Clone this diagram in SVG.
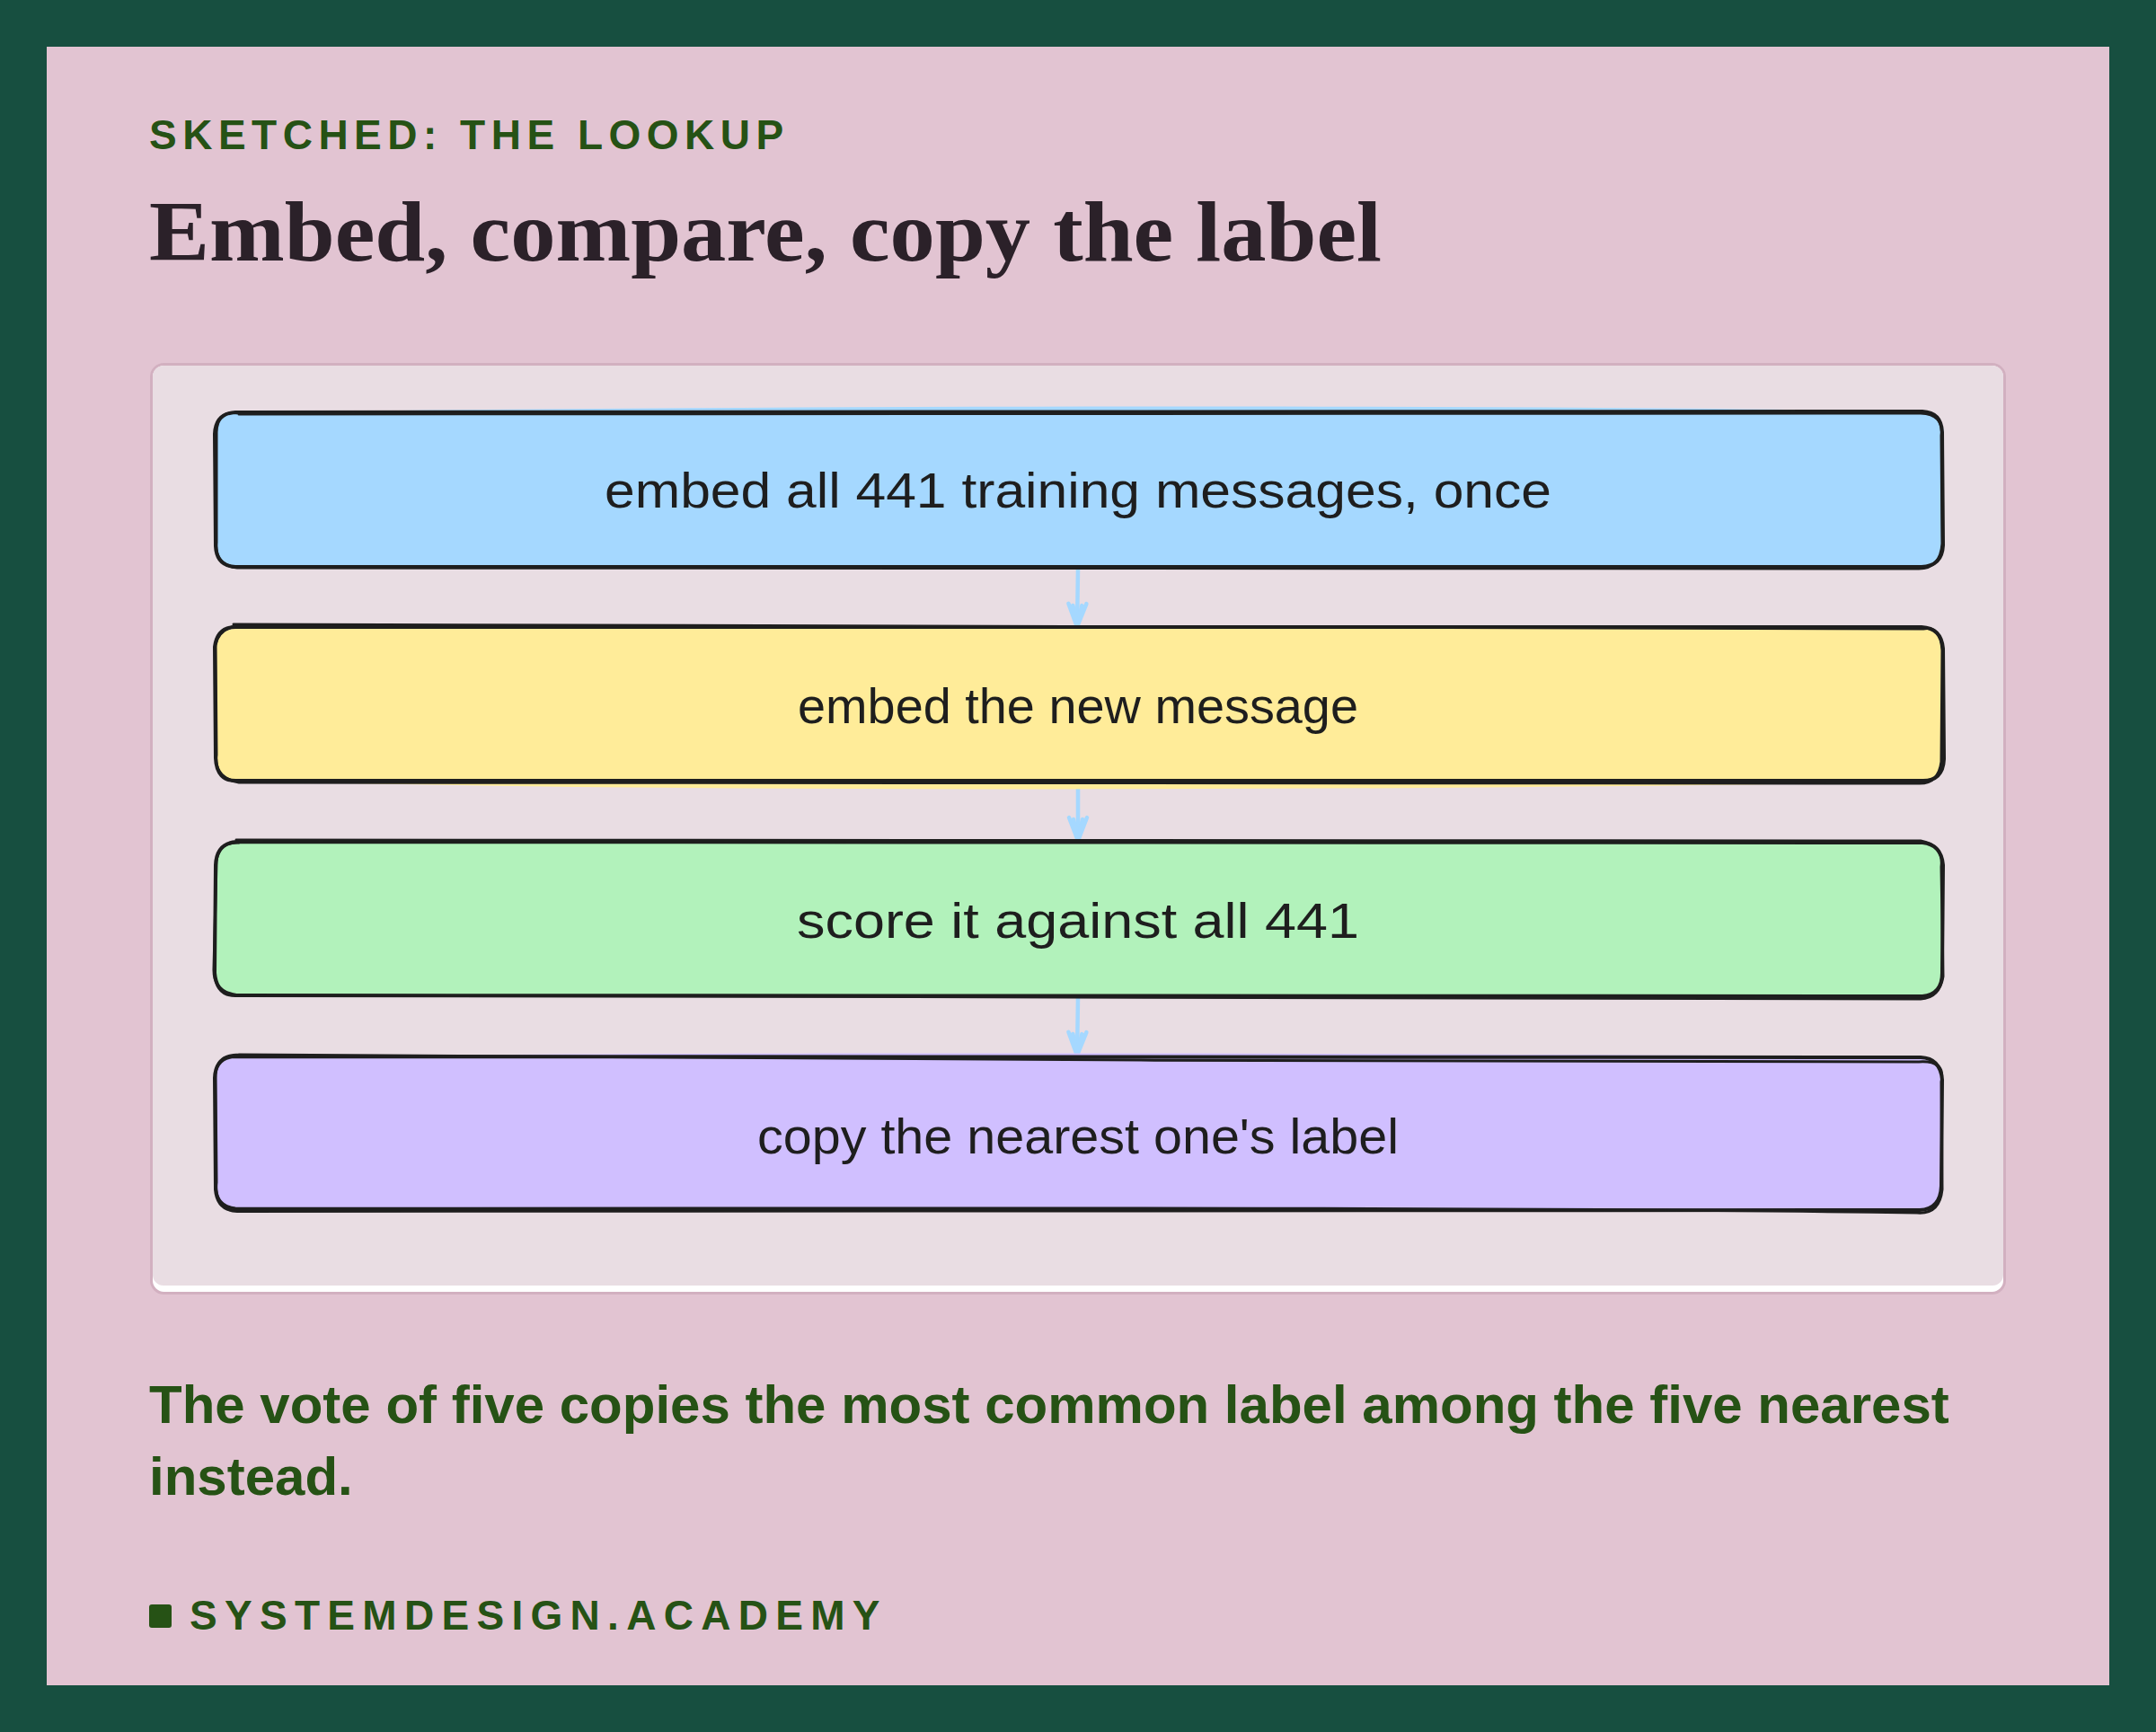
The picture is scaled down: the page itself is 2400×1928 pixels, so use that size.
<svg xmlns="http://www.w3.org/2000/svg" width="2400" height="1928" viewBox="0 0 2400 1928">
  <style>
    .kicker { font-family: "Liberation Sans", Arial, sans-serif; font-weight: 700; font-size: 46px; fill: #265215; letter-spacing: 6.5px; }
    .title { font-family: "Liberation Serif", "Times New Roman", serif; font-weight: 700; font-size: 96px; fill: #2b2129; }
    .caption { font-family: "Liberation Sans", Arial, sans-serif; font-weight: 700; font-size: 60px; fill: #265215; }
    .footer { font-family: "Liberation Sans", Arial, sans-serif; font-weight: 700; font-size: 46px; fill: #265215; letter-spacing: 8.3px; }
    .label { font-family: "Liberation Sans", Arial, sans-serif; font-size: 56px; fill: #1e1e1e; text-anchor: middle; }
    .edge { fill: none; stroke: #1e1e1e; stroke-width: 4; stroke-linecap: round; stroke-linejoin: round; }
    .edge2 { fill: none; stroke: #1e1e1e; stroke-width: 3; stroke-linecap: round; stroke-linejoin: round; }
    .conn { fill: none; stroke: #a5d8ff; stroke-width: 4.5; stroke-linecap: round; }
  </style>
  <defs>
    <marker id="ah" viewBox="-32 -16 38 32" refX="0" refY="0" markerWidth="38" markerHeight="32" markerUnits="userSpaceOnUse" orient="auto">
      <path d="M-26,-10 L0,0 L-26,10 M-24,-5 L0,0 L-24,5" fill="none" stroke="#a5d8ff" stroke-width="4.5" stroke-linecap="round" stroke-linejoin="round"/>
    </marker>
  </defs>

  <rect x="0" y="0" width="2400" height="1928" fill="#174f40"/>
  <rect x="52" y="52" width="2296" height="1824" fill="#e2c4d2"/>

  <g id="header">
    <text class="kicker" x="166" y="166">SKETCHED: THE LOOKUP</text>
    <text class="title" x="166" y="290" textLength="1372" lengthAdjust="spacingAndGlyphs">Embed, compare, copy the label</text>
  </g>

  <g id="panel">
    <rect x="168.5" y="405.5" width="2063" height="1034" rx="14" fill="#ffffff" stroke="#d2b0c0" stroke-width="3"/>
    <rect x="170" y="407" width="2060" height="1024" rx="12" fill="#e9dde3"/>
  </g>

  <g id="connectors">
    <path class="conn" d="M1200,633 L1199,698" marker-end="url(#ah)"/>
    <path class="conn" d="M1200,871 L1200,936" marker-end="url(#ah)"/>
    <path class="conn" d="M1200,1110 L1199,1175" marker-end="url(#ah)"/>
  </g>

  <g id="node-embed-all" transform="translate(240,459)">
    <path d="M24,0 C560,-7 1360,-10 1900,-1 Q1923,1 1924,24 L1923,148 Q1922,172 1898,172 L24,173 Q0,172 0,148 L0,24 Q0,0 24,0 Z" fill="#a5d8ff"/>
    <path class="edge" d="M22,0 L1900,-1 Q1921,0 1922,22 L1923,148 Q1922,171 1899,172 L22,172 Q1,171 0,149 L-1,24 Q0,1 22,0"/>
    <path class="edge2" d="M26,2 L1898,1 Q1924,2 1921,26 L1922,146 Q1920,174 1896,174 L24,173 Q-1,170 1,145 L1,22 Q2,-3 26,1"/>
    <text class="label" x="960" y="106" textLength="1054" lengthAdjust="spacingAndGlyphs">embed all 441 training messages, once</text>
  </g>

  <g id="node-embed-new" transform="translate(240,698)">
    <path d="M24,2 L1900,0 Q1922,1 1922,24 L1924,148 Q1922,171 1898,172 C1500,180 900,183 400,178 L24,172 Q0,171 -1,147 L0,24 Q0,2 24,2 Z" fill="#ffec99"/>
    <path class="edge" d="M24,0 L1899,0 Q1921,1 1923,24 L1924,147 Q1923,172 1899,171 L24,171 Q1,172 0,146 L-1,22 Q2,-1 24,0"/>
    <path class="edge2" d="M20,-3 L1901,2 Q1920,-2 1922,26 L1921,150 Q1918,174 1897,174 L26,173 Q-2,168 1,142 L0,20 Q3,3 22,-1"/>
    <text class="label" x="960" y="107" textLength="624" lengthAdjust="spacingAndGlyphs">embed the new message</text>
  </g>

  <g id="node-score" transform="translate(240,937)">
    <path d="M24,0 L1898,0 Q1922,1 1922,24 L1923,148 Q1921,172 1898,171 L24,172 Q-1,171 0,147 L0,24 Q1,0 24,0 Z" fill="#b2f2bb"/>
    <path class="edge" d="M24,0 L1900,1 Q1921,3 1923,26 L1922,146 Q1922,170 1900,172 L22,171 Q1,171 -1,146 L0,26 Q1,1 24,0"/>
    <path class="edge2" d="M23,-2 L1898,-1 Q1924,4 1921,28 L1923,150 Q1919,174 1898,175 L26,171 Q-3,168 -2,141 L1,22 Q3,0 26,1"/>
    <text class="label" x="960" y="107" textLength="626" lengthAdjust="spacingAndGlyphs">score it against all 441</text>
  </g>

  <g id="node-copy" transform="translate(240,1176)">
    <path d="M24,1 C500,-6 1400,-4 1898,1 Q1922,2 1922,24 L1923,146 Q1921,170 1898,171 L24,173 Q0,172 0,148 L0,24 Q0,1 24,1 Z" fill="#d0bfff"/>
    <path class="edge" d="M23,0 L1898,1 Q1920,2 1922,26 L1921,144 Q1920,170 1897,171 L24,172 Q2,171 0,148 L-1,24 Q0,0 23,0"/>
    <path class="edge2" d="M26,-2 C600,4 1300,5 1896,6 Q1926,4 1921,28 L1922,148 Q1919,176 1894,174 C1300,166 600,170 22,169 Q-2,166 1,140 L0,20 Q1,-2 26,-2"/>
    <text class="label" x="960" y="108" textLength="714" lengthAdjust="spacingAndGlyphs">copy the nearest one's label</text>
  </g>

  <g id="caption">
    <text class="caption" x="166" y="1584">The vote of five copies the most common label among the five nearest</text>
    <text class="caption" x="166" y="1664">instead.</text>
  </g>

  <g id="footer">
    <rect x="166" y="1786" width="25" height="26" rx="3" fill="#265215"/>
    <text class="footer" x="211" y="1814">SYSTEMDESIGN.ACADEMY</text>
  </g>
</svg>
